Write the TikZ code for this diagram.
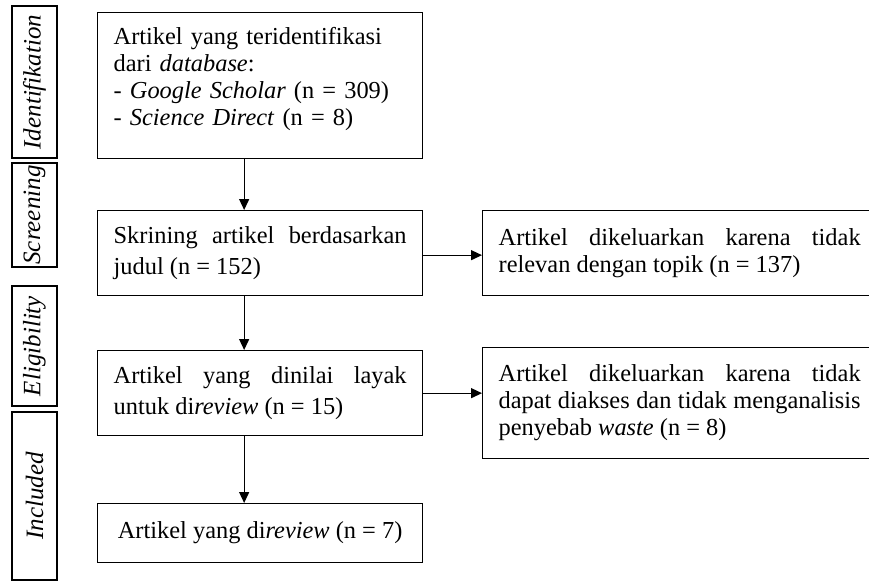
\documentclass[tikz,border=0pt]{standalone}
\usepackage{fontspec}
\setmainfont{Liberation Serif}
\usepackage{graphicx}
\usepackage{tikz}
\usetikzlibrary{arrows.meta}

\tikzset{
	box/.style = {rectangle,
		draw = black,
		line width = 1.3pt,
		text = black,
		anchor = north west,
		fill = white,
		inner xsep = 16pt,
		font = \fontsize{24.4}{27}\selectfont},
	stagebox/.style = {rectangle,
		draw = black,
		line width = 1.3pt,
		minimum width = 45pt,
		inner sep = 0pt,
		font = \fontsize{25}{28}\selectfont\itshape},
	arr/.style = {line width = 1.3pt, -{Triangle[length=11pt,width=10pt]}}
}

\begin{document}
\begin{tikzpicture}[x=1pt, y=-1pt]
			
			\clip (0,0) rectangle (869,581);
			\fill[white] (0,0) rectangle (869,581);
			
			\node[stagebox, minimum height = 152pt] (sident) at (34.5,82) {\rotatebox{90}{Identifikation}};
			\node[stagebox, minimum height = 104pt] (sscreen) at (34.5,215) {\rotatebox{90}{Screening}};
			\node[stagebox, minimum height = 120pt] (selig) at (34.5,346) {\rotatebox{90}{Eligibility}};
			\node[stagebox, minimum height = 168pt] (sincl) at (34.5,496) {\rotatebox{90}{Included}};
			
			\node[box,
			align = left,
			text width = 293pt,
			minimum height = 146pt] (ident) at (97,12)
			{Artikel yang teridentifikasi\\ dari \textit{database}:\\ - \textit{Google Scholar} (n = 309)\\ - \textit{Science Direct} (n = 8)\par\vspace{14pt}\hrule height 0pt};
			
			\node[box,
			align = justify,
			text width = 293pt,
			minimum height = 85pt,
			font = \fontsize{24.4}{31}\selectfont] (screen) at (97,210)
			{Skrining artikel berdasarkan\linebreak judul (n = 152)};
			
			\node[box,
			align = justify,
			text width = 293pt,
			minimum height = 85pt,
			font = \fontsize{24.4}{31}\selectfont] (elig) at (97,350)
			{Artikel yang dinilai layak\linebreak untuk di\textit{review} (n = 15)};
			
			\node[box,
			align = center,
			minimum width = 325pt,
			minimum height = 59pt] (incl) at (97,503)
			{Artikel yang di\textit{review} (n = 7)};
			
			\node[box,
			align = justify,
			text width = 362pt,
			minimum height = 85pt] (excl1) at (482,210)
			{Artikel dikeluarkan karena tidak\linebreak relevan dengan topik (n = 137)};
			
			\node[box,
			align = justify,
			text width = 362pt,
			minimum height = 111pt] (excl2) at (482,347)
			{Artikel dikeluarkan karena tidak\linebreak dapat diakses dan tidak menganalisis\linebreak penyebab \textit{waste} (n = 8)};
			
			\draw[arr] ([xshift=-16pt]ident.south) to ([xshift=-16pt]ident.south |- screen.north);
			\draw[arr] ([xshift=-16pt]screen.south) to ([xshift=-16pt]screen.south |- elig.north);
			\draw[arr] ([xshift=-16pt]elig.south) to ([xshift=-16pt]elig.south |- incl.north);
			
			\draw[arr] ([yshift=-2pt]screen.east) to ([yshift=-2pt]screen.east -| excl1.west);
			\draw[arr] (elig.east) to (elig.east -| excl2.west);
			
		\end{tikzpicture}
\end{document}
